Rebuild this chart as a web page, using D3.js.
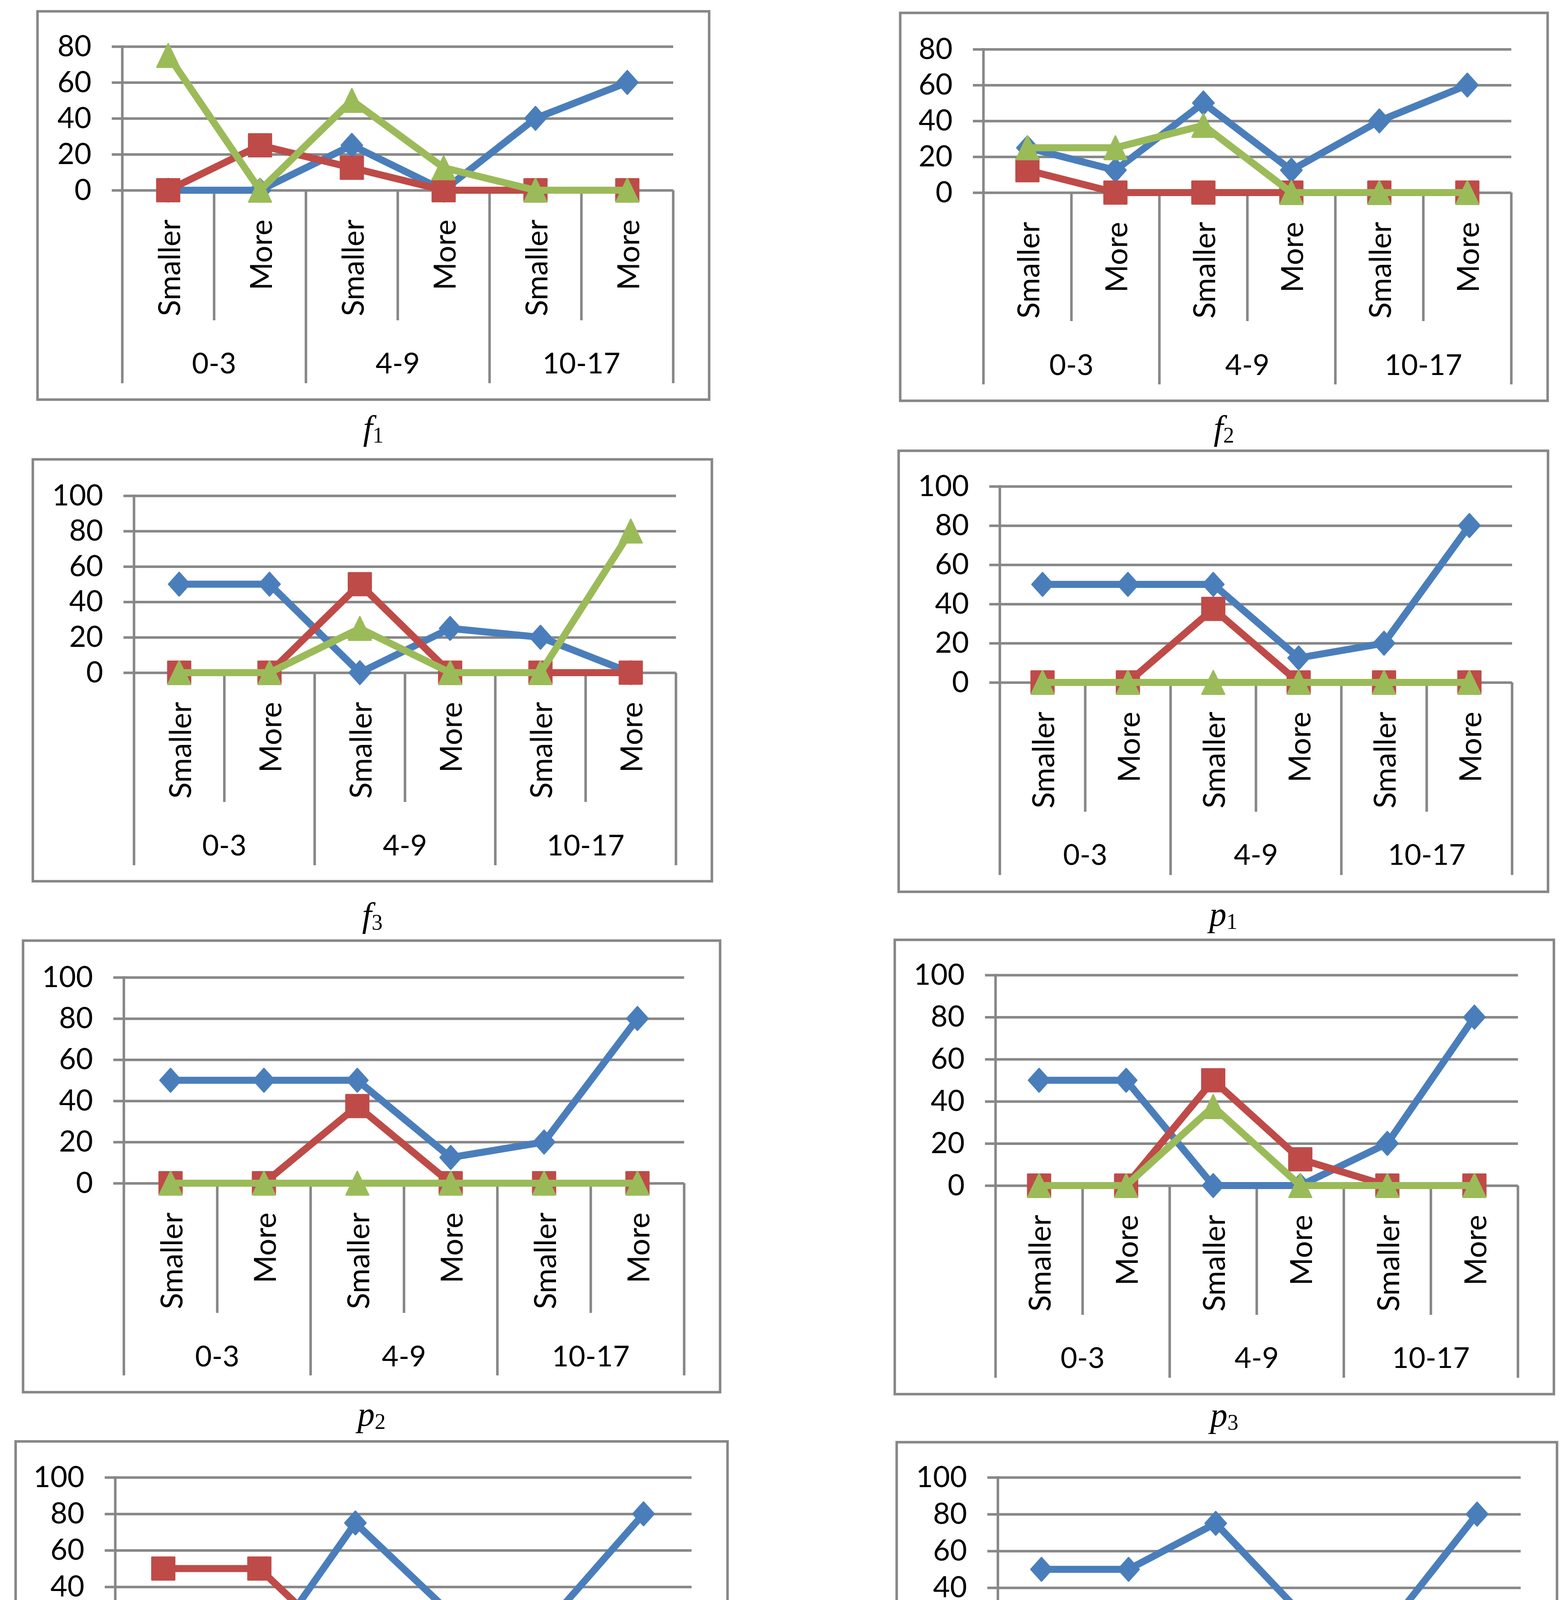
<!DOCTYPE html>
<html>
<head>
<meta charset="utf-8">
<script src="https://cdn.jsdelivr.net/npm/d3@7"></script>
<style>
  html, body { margin: 0; padding: 0; background: #fff; overflow: hidden; }
  svg { display: block; position: absolute; left: 0; }
</style>
</head>
<body>
<svg id="top" width="4008" height="2400" style="top:0"></svg>
<svg id="bottom" width="4008" height="2520" style="top:2400px"></svg>
<script>
// categories and tick labels
var categories = ["Smaller", "More", "Smaller", "More", "Smaller", "More"];
var groups = ["0-3", "4-9", "10-17"];
var seriesColors = ["#4A7EBB", "#BE4B48", "#9BBB59"];
var seriesShapes = ["diamond", "square", "triangle"];

// values per panel: [blue, red, green]
var f1Values = [[0, 0, 25, 0, 40, 60], [0, 25, 12.5, 0, 0, 0], [75, 0, 50, 12.5, 0, 0]];
var f2Values = [[25, 12.5, 50, 12.5, 40, 60], [12.5, 0, 0, 0, 0, 0], [25, 25, 37.5, 0, 0, 0]];
var f3Values = [[50, 50, 0, 25, 20, 0], [0, 0, 50, 0, 0, 0], [0, 0, 25, 0, 0, 80]];
var p1Values = [[50, 50, 50, 12.5, 20, 80], [0, 0, 37.5, 0, 0, 0], [0, 0, 0, 0, 0, 0]];
var p2Values = [[50, 50, 50, 12.5, 20, 80], [0, 0, 37.5, 0, 0, 0], [0, 0, 0, 0, 0, 0]];
var p3Values = [[50, 50, 0, 0, 20, 80], [0, 0, 50, 12.5, 0, 0], [0, 0, 37.5, 0, 0, 0]];
var p4Values = [[0, 0, 75, 25, 20, 80], [50, 50, 0, 0, 0, 0], [0, 0, 0, 0, 0, 0]];
var p5Values = [[50, 50, 75, 25, 20, 80], [0, 0, 0, 0, 0, 0], [0, 0, 0, 0, 0, 0]];

var panelValues = [f1Values, f2Values, f3Values, p1Values, p2Values, p3Values, p4Values, p5Values];
var yMaxes = [80, 80, 100, 100, 100, 100, 100, 100];
var captionLetters = ["f", "f", "f", "p", "p", "p", "p", "p"];
var captionSubs = ["1", "2", "3", "1", "2", "3", "4", "5"];

// panel layout (page pixels)
var layout = [
  {box: [96, 29, 1815, 1023],   left: 313,  right: 1723, top: 119,  zero: 487,  inner: 820,  bottom: 981,  group: 927,  cap: 1125},
  {box: [2304, 33, 3961, 1026], left: 2517, right: 3868, top: 126,  zero: 493,  inner: 822,  bottom: 984,  group: 931,  cap: 1125},
  {box: [84, 1176, 1822, 2256], left: 343,  right: 1730, top: 1269, zero: 1722, inner: 2053, bottom: 2215, group: 2161, cap: 2372},
  {box: [2300, 1154, 3962, 2283], left: 2559, right: 3870, top: 1245, zero: 1747, inner: 2078, bottom: 2240, group: 2185, cap: 2370},
  {box: [59, 2408, 1843, 3564], left: 317,  right: 1751, top: 2502, zero: 3029, inner: 3361, bottom: 3521, group: 3469, cap: 3650},
  {box: [2290, 2406, 3977, 3569], left: 2548, right: 3885, top: 2496, zero: 3035, inner: 3366, bottom: 3527, group: 3473, cap: 3652},
  {box: [40, 3690, 1862, 4784], left: 295,  right: 1770, top: 3782, zero: 4249, inner: 4579, bottom: 4741, group: 4689, cap: 4878},
  {box: [2295, 3692, 3985, 4787], left: 2554, right: 3892, top: 3782, zero: 4253, inner: 4584, bottom: 4745, group: 4698, cap: 4878}
];

var gridColor = "#878787";

// excel-like markers, centred on their bounding box; size = box side
var markerTypes = {
  diamond: { draw: function(ctx, s) { var w = s * 0.45, h = s * 0.5; ctx.moveTo(0, -h); ctx.lineTo(w, 0); ctx.lineTo(0, h); ctx.lineTo(-w, 0); ctx.closePath(); } },
  square: { draw: function(ctx, s) { var r = s / 2; ctx.moveTo(-r, -r); ctx.lineTo(r, -r); ctx.lineTo(r, r); ctx.lineTo(-r, r); ctx.closePath(); } },
  triangle: { draw: function(ctx, s) { var w = s * 0.48, h = s / 2; ctx.moveTo(0, -h); ctx.lineTo(w, h); ctx.lineTo(-w, h); ctx.closePath(); } }
};
var markerSizes = {diamond: 64, square: 62, triangle: 64};

var topSvg = d3.select("#top");
var bottomSvg = d3.select("#bottom");
topSvg.append("rect").attr("width", 4008).attr("height", 2400).attr("fill", "#fff");
bottomSvg.append("rect").attr("width", 4008).attr("height", 2520).attr("fill", "#fff");
var topLayer = topSvg.append("g");
var bottomLayer = bottomSvg.append("g").attr("transform", "translate(0,-2400)");

panelValues.forEach(function(values, p) {
  var L = layout[p];
  var g = (p < 4 ? topLayer : bottomLayer).append("g");

  // frame
  g.append("rect")
    .attr("x", L.box[0]).attr("y", L.box[1])
    .attr("width", L.box[2] - L.box[0]).attr("height", L.box[3] - L.box[1])
    .attr("fill", "#fff").attr("stroke", gridColor).attr("stroke-width", 6.5);

  var x = d3.scaleBand().domain(d3.range(categories.length)).range([L.left, L.right]);
  var y = d3.scaleLinear().domain([0, yMaxes[p]]).range([L.zero, L.top]);
  var cx = function(i) { return x(i) + x.bandwidth() / 2; };

  // y axis with gridlines
  var yAxis = d3.axisLeft(y)
    .tickValues(d3.range(0, yMaxes[p] + 1, 20))
    .tickSize(-(L.right - L.left))
    .tickPadding(79);

  var ax = g.append("g")
    .attr("transform", "translate(" + L.left + ",0)")
    .call(yAxis);
  ax.select(".domain").remove();
  ax.selectAll(".tick line")
    .attr("x1", -27)
    .attr("stroke", gridColor)
    .attr("stroke-width", 6.5);
  ax.selectAll(".tick text")
    .attr("fill", "#000")
    .style("font-family", "Lato")
    .style("font-size", "75px");

  // left axis line
  g.append("line")
    .attr("x1", L.left).attr("x2", L.left)
    .attr("y1", L.top - 3).attr("y2", L.bottom)
    .attr("stroke", gridColor).attr("stroke-width", 6.5);

  // category separators
  d3.range(1, categories.length + 1).forEach(function(i) {
    var xx = i < categories.length ? x(i) : L.right;
    g.append("line")
      .attr("x1", xx).attr("x2", xx)
      .attr("y1", L.zero).attr("y2", i % 2 === 0 ? L.bottom : L.inner)
      .attr("stroke", gridColor).attr("stroke-width", 6.5);
  });

  // category labels, rotated
  g.selectAll(".cat")
    .data(categories)
    .enter()
    .append("text")
    .attr("transform", function(d, i) { return "translate(" + cx(i) + "," + (L.zero + 75) + ")rotate(-90)"; })
    .attr("text-anchor", "end")
    .attr("dominant-baseline", "central")
    .style("font-family", "Lato")
    .style("font-size", "77px")
    .text(function(d) { return d; });

  // group labels
  g.selectAll(".grp")
    .data(groups)
    .enter()
    .append("text")
    .attr("x", function(d, i) { return x(i * 2 + 1); })
    .attr("y", L.group)
    .attr("text-anchor", "middle")
    .attr("dominant-baseline", "central")
    .style("font-family", "Lato")
    .style("font-size", "74px")
    .text(function(d) { return d; });

  // series
  var line = d3.line()
    .x(function(d, i) { return cx(i); })
    .y(function(d) { return y(d); });

  values.forEach(function(series, s) {
    g.append("path")
      .datum(series)
      .attr("d", line)
      .attr("fill", "none")
      .attr("stroke", seriesColors[s])
      .attr("stroke-width", 18)
      .attr("stroke-linejoin", "round");

    var shape = seriesShapes[s];
    g.selectAll(".m" + s)
      .data(series)
      .enter()
      .append("path")
      .attr("transform", function(d, i) { return "translate(" + cx(i) + "," + y(d) + ")"; })
      .attr("d", d3.symbol().type(markerTypes[shape]).size(markerSizes[shape] - 4))
      .attr("fill", seriesColors[s])
      .attr("stroke", seriesColors[s])
      .attr("stroke-width", 4)
      .attr("stroke-linejoin", "round");
  });

  // caption
  var cap = g.append("text")
    .attr("x", (L.box[0] + L.box[2]) / 2)
    .attr("y", L.cap)
    .attr("text-anchor", "middle")
    .style("font-family", "Liberation Serif")
    .style("font-size", "88px");
  cap.append("tspan").style("font-style", "italic").text(captionLetters[p]);
  cap.append("tspan").attr("dy", 8).style("font-size", "56px").text(captionSubs[p]);
});
</script>
</body>
</html>
